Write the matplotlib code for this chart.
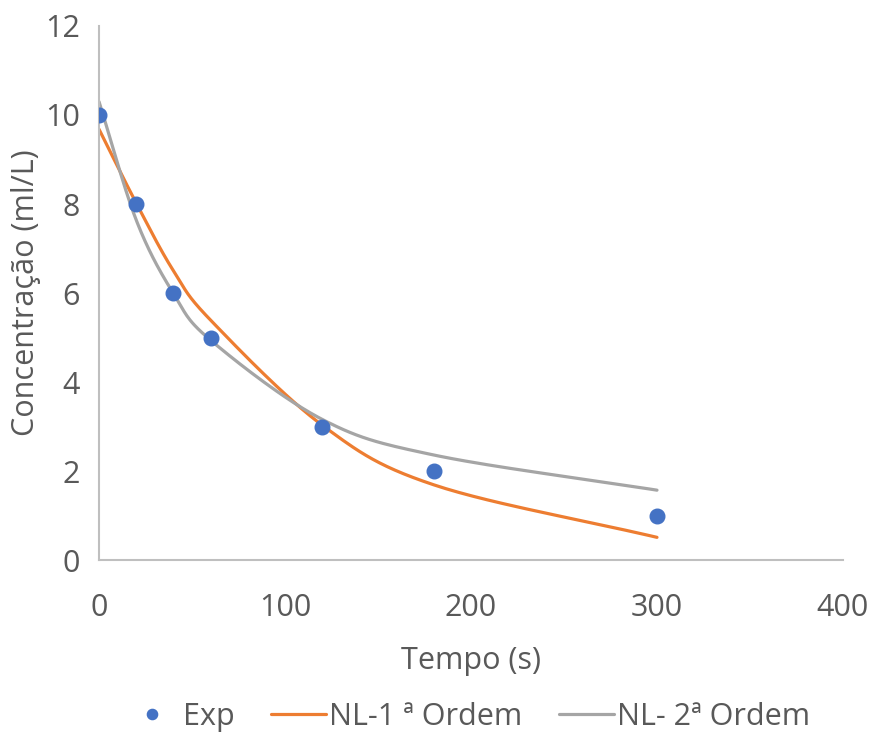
import numpy as np
import matplotlib
matplotlib.use('Agg')
import matplotlib.pyplot as plt

# Data
tempo = [0, 20, 40, 60, 120, 180, 300]
exp = [10, 8, 6, 5, 3, 2, 1]
nl1 = [9.68, 8.02, 6.5, 5.39, 3.03, 1.69, 0.51]
nl2 = [10.30, 7.64, 5.99, 4.94, 3.16, 2.36, 1.57]

BLUE = '#4472C4'
ORANGE = '#ED7D31'
GRAY = '#A5A5A5'
TEXT = '#595959'


def smooth(x, y, n=30):
    ''' Catmull-Rom curve through the points (like Excel smoothed lines)
    '''
    x = np.asarray(x, float)
    y = np.asarray(y, float)
    px = np.concatenate([[2 * x[0] - x[1]], x, [2 * x[-1] - x[-2]]])
    py = np.concatenate([[2 * y[0] - y[1]], y, [2 * y[-1] - y[-2]]])
    xs, ys = [], []
    t = np.linspace(0, 1, n)
    for i in range(1, len(px) - 2):
        for p, out in ((px, xs), (py, ys)):
            p0, p1, p2, p3 = p[i - 1], p[i], p[i + 1], p[i + 2]
            out.extend(0.5 * ((2 * p1) + (-p0 + p2) * t
                              + (2 * p0 - 5 * p1 + 4 * p2 - p3) * t ** 2
                              + (-p0 + 3 * p1 - 3 * p2 + p3) * t ** 3))
    return xs, ys


plt.rcParams['font.family'] = ['Open Sans', 'DejaVu Sans']

fig = plt.figure(figsize=(8.74, 7.34), dpi=100)
ax = fig.add_axes([0.1133, 0.237, 0.8512, 0.7276])

ax.plot(tempo, exp, 'o', color=BLUE, markersize=10.5, label='Exp', zorder=3)
sx, sy = smooth(tempo, nl1)
ax.plot(sx, sy, color=ORANGE, lw=2.3, label='NL-1 ª Ordem', solid_capstyle='round')
sx, sy = smooth(tempo, nl2)
ax.plot(sx, sy, color=GRAY, lw=2.3, label='NL- 2ª Ordem', solid_capstyle='round')

ax.set_xlim(0, 400)
ax.set_ylim(0, 12)
ax.set_xticks([0, 100, 200, 300, 400])
ax.set_yticks([0, 2, 4, 6, 8, 10, 12])

for side in ('top', 'right'):
    ax.spines[side].set_visible(False)
for side in ('left', 'bottom'):
    ax.spines[side].set_color('#BFBFBF')
    ax.spines[side].set_linewidth(1.5)

ax.tick_params(length=0, labelsize=22, colors=TEXT, pad=14)
ax.tick_params(axis='x', pad=24)

ax.set_xlabel('Tempo (s)', fontsize=22, color=TEXT, labelpad=16)
ax.set_ylabel('Concentração (ml/L)', fontsize=22, color=TEXT, labelpad=3)

fig.legend(loc='lower center', bbox_to_anchor=(0.535, -0.035), ncol=3, frameon=False,
           fontsize=22, labelcolor=TEXT, handlelength=1.8, handletextpad=0.1,
           columnspacing=1.2, markerscale=0.7)

fig.savefig('out.png', dpi=100)
